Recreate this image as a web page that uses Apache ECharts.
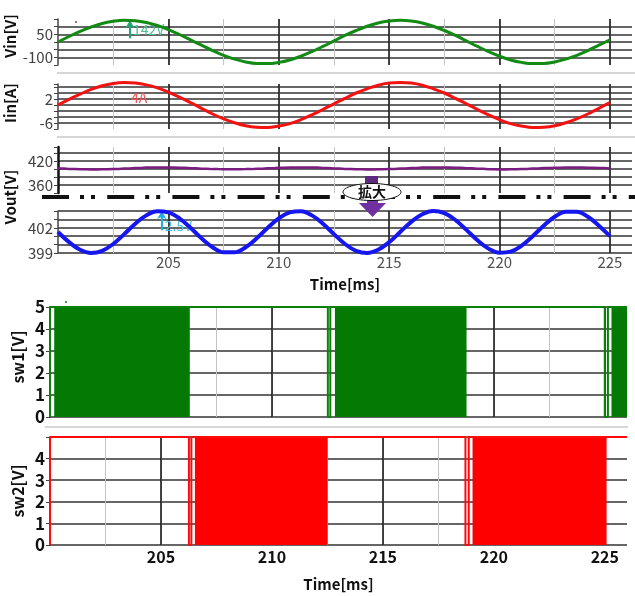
<!DOCTYPE html>
<html>
<head>
<meta charset="utf-8">
<script src="https://cdn.jsdelivr.net/npm/echarts@6/dist/echarts.min.js"></script>
<style>
  html, body { margin: 0; padding: 0; background: #fff; }
  #main { width: 635px; height: 596px; }
</style>
</head>
<body>
<div id="main"></div>
<script>
// time samples [ms], every 0.5 ms
const timeMs = [
  200, 200.5, 201, 201.5, 202, 202.5, 203, 203.5, 204, 204.5,
  205, 205.5, 206, 206.5, 207, 207.5, 208, 208.5, 209, 209.5,
  210, 210.5, 211, 211.5, 212, 212.5, 213, 213.5, 214, 214.5,
  215, 215.5, 216, 216.5, 217, 217.5, 218, 218.5, 219, 219.5,
  220, 220.5, 221, 221.5, 222, 222.5, 223, 223.5, 224, 224.5, 225
];
// input voltage [V]
const vinV = [
  0, 36, 69, 98, 121, 135, 142, 139, 127, 108,
  81, 49, 14, -21, -56, -87, -112, -130, -140, -141,
  -133, -117, -93, -63, -29, 7, 43, 75, 103, 124,
  137, 142, 137, 124, 103, 75, 43, 7, -29, -63,
  -93, -117, -133, -141, -140, -130, -112, -87, -56, -21, 14
];
// input current [A]
const iinA = [
  0, 1.9, 3.6, 5.2, 6.4, 7.2, 7.5, 7.3, 6.7, 5.7,
  4.3, 2.6, 0.8, -1.1, -3.0, -4.6, -5.9, -6.9, -7.4, -7.5,
  -7.0, -6.2, -4.9, -3.3, -1.5, 0.4, 2.2, 4.0, 5.4, 6.6,
  7.3, 7.5, 7.3, 6.6, 5.4, 4.0, 2.2, 0.4, -1.5, -3.3,
  -4.9, -6.2, -7.0, -7.5, -7.4, -6.9, -5.9, -4.6, -3.0, -1.1, 0.8
];
// output voltage [V]
const voutV = [
  401.5, 400.29, 399.38, 399.0, 399.26, 400.07, 401.25, 402.49, 403.48, 403.97,
  403.84, 403.13, 402.0, 400.75, 399.69, 399.08, 399.08, 399.69, 400.75, 402.0,
  403.13, 403.84, 403.97, 403.48, 402.49, 401.25, 400.07, 399.26, 399.0, 399.38,
  400.29, 401.5, 402.71, 403.62, 404.0, 403.74, 402.93, 401.75, 400.51, 399.52,
  399.03, 399.16, 399.87, 401.0, 402.25, 403.31, 403.92, 403.92, 403.31, 402.25, 401.0
];
// switch gate signals: trace outline and PWM burst intervals [ms]
const sw1Trace = [[200, 0], [200, 5], [212.52, 5], [212.52, 0], [212.63, 0], [212.63, 5],
  [225.0, 5], [225.0, 0], [225.14, 0], [225.14, 5], [226, 5]];
const sw1Bursts = [[200.19, 206.3], [212.84, 218.77], [225.3, 226]];
const sw2Trace = [[200, 0], [200, 5], [206.26, 5], [206.26, 0], [206.37, 0], [206.37, 5],
  [218.72, 5], [218.72, 0], [218.87, 0], [218.87, 5], [226, 5]];
const sw2Bursts = [[206.53, 212.51], [219.04, 225.08]];

const xTickLabels = [205, 210, 215, 220, 225];

const FONT = '"Noto Sans CJK JP", "Noto Sans", sans-serif';
const myChart = echarts.init(document.getElementById('main'));

function pairs(ys) {
  return timeMs.map((t, i) => [t, ys[i]]);
}

// grids: 0 Vin, 1 Iin, 2 Vout wide, 3 Vout zoom, 4 sw1, 5 sw2
const grids = [
  { left: 58, right: 3, top: 19, height: 46 },
  { left: 58, right: 3, top: 84, height: 45 },
  { left: 58, right: 3, top: 147, height: 46 },
  { left: 58, right: 3, top: 211, height: 42 },
  { left: 50, right: 8, top: 307, height: 110 },
  { left: 50, right: 8, top: 437, height: 108 }
];

let xAxes = [];
grids.forEach(function (g, i) {
  let bottomTop = i === 3;
  let bottomSw = i === 5;
  let dark = {
    type: 'value', gridIndex: i, min: 200, max: 226, interval: 5, z: 1,
    axisLine: { show: false }, axisTick: { show: false },
    splitLine: { show: true, showMinLine: false, showMaxLine: false,
      lineStyle: { color: '#1a1a1a', width: 1.6 } },
    axisLabel: { show: false }
  };
  if (bottomTop || bottomSw) {
    dark.axisLabel = {
      show: true, margin: bottomTop ? 2 : 4,
      fontFamily: FONT, fontSize: bottomTop ? 15 : 16,
      fontWeight: bottomTop ? 'normal' : 'bold',
      color: bottomTop ? '#505050' : '#111',
      formatter: v => xTickLabels.indexOf(v) >= 0 ? String(v) : ''
    };
    dark.name = 'Time[ms]';
    dark.nameLocation = 'middle';
    dark.nameGap = bottomTop ? 24 : 32;
    dark.nameTextStyle = { fontFamily: FONT, fontSize: 15, fontWeight: 'bold', color: '#111' };
  }
  let light = {
    type: 'value', gridIndex: i, min: 200, max: 226, interval: 2.5, z: 0,
    axisLine: { show: false }, axisTick: { show: false }, axisLabel: { show: false },
    splitLine: { show: true, showMinLine: false, showMaxLine: false,
      lineStyle: { color: '#c4c4c4', width: 1 } }
  };
  xAxes.push(dark, light);
});

function yAx(i, min, max, interval, shown, opt) {
  opt = opt || {};
  return {
    type: 'value', gridIndex: i, min: min, max: max, interval: interval,
    axisLine: { show: true, lineStyle: { color: opt.axisColor || '#444', width: opt.axisWidth || 1.5 } },
    axisTick: { show: true, length: 4, lineStyle: { color: '#444' } },
    splitLine: { show: true, showMinLine: !!opt.minLine, showMaxLine: !!opt.maxLine,
      lineStyle: { color: '#333', width: 1.5 } },
    axisLabel: {
      margin: 5, fontFamily: FONT,
      fontSize: opt.big ? 17 : 15,
      fontWeight: opt.big ? 'bold' : 'normal',
      color: opt.big ? '#111' : '#404040',
      padding: opt.big ? 0 : [0, 0, 5, 0],
      formatter: v => shown.indexOf(v) >= 0 ? String(v) : ''
    }
  };
}

const yAxes = [
  yAx(0, -150, 150, 50, [50, -100]),
  yAx(1, -8, 7, 2, [2, -6]),
  yAx(2, 340, 455, 20, [420, 360], { axisColor: '#111', axisWidth: 2.5 }),
  yAx(3, 399, 404, 1, [402, 399], { minLine: true, maxLine: true }),
  yAx(4, 0, 5, 1, [0, 1, 2, 3, 4, 5], { big: true, minLine: true, maxLine: true, axisColor: '#111' }),
  yAx(5, 0, 5, 1, [0, 1, 2, 3, 4], { big: true, minLine: true, maxLine: true, axisColor: '#111' })
];

function arrowMark(t, from, to, color, textColor, text, textAt) {
  return {
    markLine: {
      silent: true, symbol: ['none', 'arrow'], symbolSize: [7, 8],
      lineStyle: { color: color, width: 2, type: 'solid' },
      label: { show: false },
      data: [[{ coord: [t, from] }, { coord: [t, to] }]]
    },
    markPoint: {
      silent: true, symbol: 'circle', symbolSize: 0,
      label: { show: true, position: 'right', distance: 3, formatter: text,
        color: textColor, fontFamily: FONT, fontSize: 14 },
      data: [{ coord: [t, textAt] }]
    }
  };
}

const series = [
  Object.assign({
    name: 'Vin', type: 'line', xAxisIndex: 0, yAxisIndex: 0, data: pairs(vinV),
    smooth: 0.4, showSymbol: false, clip: false, z: 5,
    lineStyle: { color: '#138a13', width: 3 }
  }, arrowMark(203.26, 25, 142, '#1fa874', '#4cbf94', '142V', 78)),
  Object.assign({
    name: 'Iin', type: 'line', xAxisIndex: 2, yAxisIndex: 1, data: pairs(iinA),
    smooth: 0.4, showSymbol: false, clip: false, z: 5,
    lineStyle: { color: '#f21212', width: 3 }
  }, arrowMark(203.17, 1, 7.5, '#e53a3a', '#ec5555', '4A', 2.6)),
  {
    name: 'Vout', type: 'line', xAxisIndex: 4, yAxisIndex: 2, data: pairs(voutV),
    step: 'middle', showSymbol: false, clip: false, z: 5,
    lineStyle: { color: '#7a1c80', width: 2.5 }
  },
  Object.assign({
    name: 'Vout zoom', type: 'line', xAxisIndex: 6, yAxisIndex: 3, data: pairs(voutV),
    smooth: 0.4, showSymbol: false, clip: false, z: 5,
    lineStyle: { color: '#1616ee', width: 4 }
  }, arrowMark(204.7, 401.7, 404, '#1eaee8', '#45bfee', '2.5V', 402.2)),
  {
    name: 'sw1', type: 'line', xAxisIndex: 8, yAxisIndex: 4, data: sw1Trace,
    showSymbol: false, clip: false, z: 5,
    lineStyle: { color: '#0a820a', width: 2 },
    markArea: {
      silent: true, itemStyle: { color: '#047a04', opacity: 1 },
      data: sw1Bursts.map(b => [{ coord: [b[0], 0] }, { coord: [b[1], 5.08] }])
    }
  },
  {
    name: 'sw2', type: 'line', xAxisIndex: 10, yAxisIndex: 5, data: sw2Trace,
    showSymbol: false, clip: false, z: 5,
    lineStyle: { color: '#ff0a0a', width: 2 },
    markArea: {
      silent: true, itemStyle: { color: '#ff0000', opacity: 1 },
      data: sw2Bursts.map(b => [{ coord: [b[0], 0] }, { coord: [b[1], 5.08] }])
    }
  }
];

function vText(text, x, y, size) {
  return {
    type: 'text', x: x, y: y, rotation: Math.PI / 2, z: 10,
    style: { text: text, align: 'center', verticalAlign: 'middle',
      fontFamily: FONT, fontSize: size || 15, fontWeight: 'bold', fill: '#111' }
  };
}
function sep(x1, x2, y) {
  return { type: 'line', z: 1, shape: { x1: x1, y1: y, x2: x2, y2: y },
    style: { stroke: '#d6d6d6', lineWidth: 2 } };
}

const graphic = [
  vText('Vin[V]', 10, 36),
  vText('Iin[A]', 10, 103),
  vText('Vout[V]', 10, 197),
  vText('sw1[V]', 18, 357, 16),
  vText('sw2[V]', 18, 491, 16),
  sep(57, 635, 73),
  sep(57, 635, 137),
  sep(45, 628, 427),
  // dash-dot break between the two Vout scales
  { type: 'line', z: 3, shape: { x1: 42, y1: 197, x2: 635, y2: 197 },
    style: { stroke: '#111', lineWidth: 4, lineDash: [27, 11, 4, 7, 4, 12.2] } },
  // 拡大 callout
  { type: 'rect', z: 6, shape: { x: 365, y: 176, width: 13, height: 10 }, style: { fill: '#5e2a7e' } },
  { type: 'polygon', z: 6, shape: { points: [[367, 199], [378, 199], [378, 203], [386, 203], [372.5, 217], [359, 203], [367, 203]] },
    style: { fill: '#7030a0' } },
  { type: 'ellipse', z: 7, shape: { cx: 372, cy: 192, rx: 29, ry: 8.5 },
    style: { fill: '#fff', stroke: '#111', lineWidth: 1 } },
  { type: 'text', z: 8, x: 372, y: 192,
    style: { text: '拡大', align: 'center', verticalAlign: 'middle',
      fontFamily: FONT, fontSize: 14, fontWeight: 'bold', fill: '#111' } },
  { type: 'circle', z: 6, shape: { cx: 76, cy: 22, r: 1 }, style: { fill: '#8a2a9a' } },
  { type: 'circle', z: 6, shape: { cx: 66, cy: 302, r: 1 }, style: { fill: '#0a820a' } }
];

const option = {
  animation: false,
  backgroundColor: '#fff',
  grid: grids,
  xAxis: xAxes,
  yAxis: yAxes,
  series: series,
  graphic: graphic
};
myChart.setOption(option);
window.addEventListener('resize', function () {
  myChart.resize();
});
</script>
</body>
</html>
